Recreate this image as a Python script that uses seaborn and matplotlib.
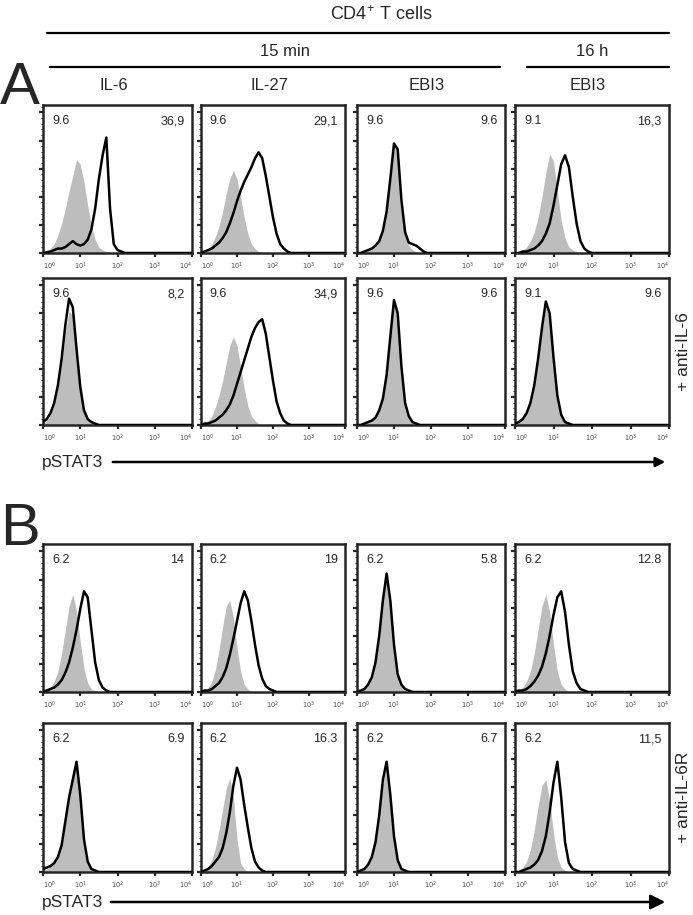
import matplotlib
matplotlib.use("Agg")
import numpy as np
import matplotlib.pyplot as plt
import seaborn as sns
from matplotlib.lines import Line2D
from matplotlib.patches import FancyArrowPatch
from matplotlib.ticker import LogLocator, MultipleLocator, NullFormatter

sns.set_style("ticks")
plt.rcParams["font.family"] = ["Liberation Sans", "DejaVu Sans"]

# fluorescence positions in decades (log10 pSTAT3), last point is the axis end
log_fl = [0.0, 0.1, 0.2, 0.3, 0.4, 0.5, 0.6, 0.7, 0.8, 0.9, 1.0, 1.1, 1.2, 1.3,
          1.4, 1.5, 1.6, 1.7, 1.8, 1.9, 2.0, 2.1, 2.2, 2.3, 2.4, 2.5, 2.6, 4.0]

stimuli = ["IL-6", "IL-27", "EBI3", "EBI3"]

# panel A, row 1 (no antibody): gray = control, black = stimulated
a1_gray = [
    [0, .01, .03, .06, .12, .2, .3, .42, .52, .63, .6, .48, .32, .18, .09, .04, .02, .01],
    [0, .01, .03, .06, .11, .18, .28, .4, .5, .56, .5, .38, .24, .13, .06, .03, .01],
    [0, 0, .01, .02, .03, .05, .09, .16, .3, .52, .72, .68, .36, .14, .05, .02, .01],
    [0, .01, .02, .04, .08, .14, .24, .38, .54, .67, .62, .42, .22, .1, .04, .02, .01],
]
a1_black = [
    [0, .005, .01, .02, .03, .03, .04, .06, .08, .06, .05, .06, .09, .16, .3, .5, .66, .78, .3, .06, .02, .01],
    [0, .01, .02, .03, .05, .07, .1, .14, .2, .27, .35, .42, .48, .53, .58, .64, .68, .64, .52, .38, .24, .13, .06, .03, .01],
    [0, 0, .01, .02, .03, .05, .08, .15, .28, .5, .74, .7, .36, .14, .07, .06, .05, .03, .01],
    [0, 0, .01, .01, .02, .03, .05, .08, .13, .2, .32, .46, .6, .66, .58, .38, .2, .08, .03, .01],
]
a1_labels = [("9.6", "36,9"), ("9.6", "29,1"), ("9.6", "9.6"), ("9.1", "16,3")]

# panel A, row 2 (+ anti-IL-6)
a2_gray = [
    [.01, .03, .07, .14, .25, .42, .62, .78, .74, .5, .26, .12, .05, .02, .01],
    [0, .01, .03, .06, .12, .2, .3, .42, .54, .6, .54, .4, .25, .13, .06, .03, .01],
    [0, 0, .01, .02, .03, .06, .1, .18, .34, .6, .82, .74, .38, .14, .05, .02, .01],
    [.01, .02, .04, .08, .15, .27, .44, .64, .8, .74, .45, .2, .07, .02, .01],
]
a2_black = [
    [.02, .04, .08, .15, .27, .45, .68, .86, .8, .52, .26, .1, .04, .02, .01],
    [0, .01, .01, .02, .03, .05, .07, .1, .14, .2, .28, .36, .44, .52, .6, .66, .7, .72, .62, .46, .3, .16, .08, .03, .01],
    [0, 0, .01, .02, .03, .05, .1, .18, .34, .6, .85, .76, .4, .15, .06, .02, .01],
    [.01, .02, .04, .08, .15, .27, .45, .66, .84, .76, .46, .2, .07, .02, .01],
]
a2_labels = [("9.6", "8,2"), ("9.6", "34,9"), ("9.6", "9.6"), ("9.1", "9.6")]

# panel B, row 1 (no antibody)
b1_gray = [
    [0, .01, .03, .07, .14, .26, .42, .58, .66, .55, .34, .16, .06, .02, .01],
    [0, .01, .03, .07, .15, .28, .44, .58, .62, .5, .3, .14, .05, .02],
    [0, .01, .02, .05, .1, .2, .38, .62, .78, .6, .3, .12, .04, .01],
    [0, .01, .03, .07, .14, .26, .42, .58, .66, .54, .32, .14, .05, .02],
]
b1_black = [
    [0, .01, .02, .03, .05, .08, .13, .2, .3, .42, .56, .68, .64, .42, .2, .08, .03, .01],
    [0, .01, .01, .02, .04, .06, .1, .16, .25, .36, .48, .6, .68, .62, .48, .32, .18, .09, .04, .02, .01],
    [0, .01, .02, .05, .1, .2, .38, .62, .8, .62, .32, .12, .05, .02, .01],
    [0, .01, .01, .02, .04, .07, .11, .17, .26, .38, .52, .64, .68, .54, .32, .14, .06, .02, .01],
]
b1_labels = [("6.2", "14"), ("6.2", "19"), ("6.2", "5.8"), ("6.2", "12.8")]

# panel B, row 2 (+ anti-IL-6R)
b2_gray = [
    [.01, .02, .04, .07, .13, .22, .36, .5, .64, .72, .5, .2, .06, .02],
    [0, .02, .04, .08, .16, .28, .42, .56, .63, .5, .22, .06, .02],
    [0, .01, .02, .05, .1, .2, .38, .6, .72, .5, .22, .07, .02],
    [0, .01, .03, .07, .15, .28, .44, .58, .62, .48, .26, .1, .03, .01],
]
b2_black = [
    [.02, .03, .04, .06, .1, .18, .34, .5, .62, .74, .52, .22, .07, .02, .01],
    [0, .01, .02, .04, .07, .1, .16, .26, .4, .58, .7, .62, .45, .3, .16, .07, .03, .01],
    [0, .01, .02, .05, .1, .2, .38, .62, .74, .52, .24, .08, .02, .01],
    [0, 0, .01, .02, .03, .05, .08, .14, .24, .4, .6, .74, .5, .2, .06, .02, .01],
]
b2_labels = [("6.2", "6.9"), ("6.2", "16.3"), ("6.2", "6.7"), ("6.2", "11,5")]

W, H = 693, 915
col_px = [(43, 192), (201, 345), (357, 505), (515, 669)]
row_px = [(105, 253), (278, 425), (544, 692), (723, 872)]

fig = plt.figure(figsize=(W / 100, H / 100), dpi=100)


def fx(x):
    return x / W


def fy(y):
    return 1 - y / H


def pad(vals):
    return list(vals) + [0] * (len(log_fl) - len(vals))


def draw_panel(x0, x1, y0, y1, gray, black, labels):
    ax = fig.add_axes([fx(x0), fy(y1), fx(x1 - x0), (y1 - y0) / H])
    xs = 10 ** np.array(log_fl)
    ax.fill_between(xs, pad(gray), color="#bdbdbd", lw=0, zorder=1)
    sns.lineplot(x=xs, y=pad(black), ax=ax, color="black", lw=1.8, zorder=3)
    ax.set_xscale("log")
    ax.set_xlim(1, 1e4)
    ax.set_ylim(0, 1)
    ax.set_xticks([1, 10, 100, 1000, 10000])
    ax.set_xticklabels([r"$10^{0}$", r"$10^{1}$", r"$10^{2}$", r"$10^{3}$", r"$10^{4}$"],
                       fontsize=4.8, color="#444444")
    tl = ax.get_xticklabels()
    tl[0].set_ha("left")
    tl[-1].set_ha("right")
    ax.xaxis.set_minor_locator(LogLocator(base=10, subs=np.arange(2, 10)))
    ax.xaxis.set_minor_formatter(NullFormatter())
    ax.yaxis.set_major_locator(MultipleLocator(0.19))
    ax.yaxis.set_minor_locator(MultipleLocator(0.038))
    ax.set_yticklabels([])
    ax.tick_params(axis="both", which="major", length=3, width=1.6, pad=2.5, direction="out")
    ax.tick_params(axis="both", which="minor", length=1.5, width=0.8, direction="out")
    for sp in ax.spines.values():
        sp.set_linewidth(1.8)
        sp.set_visible(True)
    ax.text(0.06, 0.93, labels[0], transform=ax.transAxes, ha="left", va="top", fontsize=9)
    ax.text(0.95, 0.93, labels[1], transform=ax.transAxes, ha="right", va="top", fontsize=9)
    return ax


rows = [(a1_gray, a1_black, a1_labels), (a2_gray, a2_black, a2_labels),
        (b1_gray, b1_black, b1_labels), (b2_gray, b2_black, b2_labels)]
for (y0, y1), (grays, blacks, labs) in zip(row_px, rows):
    for (x0, x1), g, b, lab in zip(col_px, grays, blacks, labs):
        draw_panel(x0, x1, y0, y1, g, b, lab)

# header
fig.text(fx(381), fy(15), r"CD4$^{\mathregular{+}}$ T cells", ha="center", va="center", fontsize=13)
fig.add_artist(Line2D([fx(47), fx(669)], [fy(33), fy(33)], color="black", lw=1.6))
fig.text(fx(285), fy(51), "15 min", ha="center", va="center", fontsize=12)
fig.add_artist(Line2D([fx(50), fx(500)], [fy(67), fy(67)], color="black", lw=1.6))
fig.text(fx(592), fy(51), "16 h", ha="center", va="center", fontsize=12)
fig.add_artist(Line2D([fx(527), fx(669)], [fy(67), fy(67)], color="black", lw=1.6))
for (x0, x1), name in zip(col_px, stimuli):
    fig.text(fx((x0 + x1) / 2 - 4), fy(86), name, ha="center", va="center", fontsize=12)

# panel letters
fig.text(fx(0), fy(104), "A", ha="left", va="baseline", fontsize=43)
fig.text(fx(0), fy(545), "B", ha="left", va="baseline", fontsize=43)

# side labels
fig.text(fx(684), fy((row_px[1][0] + row_px[1][1]) / 2), "+ anti-IL-6", rotation=90,
         ha="center", va="center", fontsize=12.5)
fig.text(fx(684), fy((row_px[3][0] + row_px[3][1]) / 2), "+ anti-IL-6R", rotation=90,
         ha="center", va="center", fontsize=12.5)

# pSTAT3 axis arrows
for y, x_start, ms in [(462, 110, 14), (902, 108, 22)]:
    fig.text(fx(42), fy(y), "pSTAT3", ha="left", va="center", fontsize=12.5)
    fig.add_artist(FancyArrowPatch((fx(x_start), fy(y)), (fx(668), fy(y)),
                                   transform=fig.transFigure, arrowstyle="-|>",
                                   mutation_scale=ms, lw=1.8, color="black"))

fig.savefig("out.png", dpi=100)
